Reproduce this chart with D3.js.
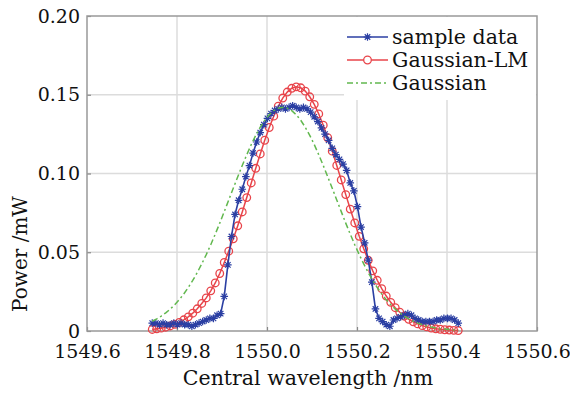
<!DOCTYPE html>
<html><head><meta charset="utf-8">
<script src="https://cdn.jsdelivr.net/npm/d3@7"></script>
<style>body{margin:0;background:#fff}svg{display:block}</style>
</head><body><svg id="c" width="570" height="393"></svg>
<script>
// ---- data ----
const xTicks = [1549.6, 1549.8, 1550.0, 1550.2, 1550.4, 1550.6];
const xTickLabels = ["1549.6", "1549.8", "1550.0", "1550.2", "1550.4", "1550.6"];
const yTicks = [0, 0.05, 0.10, 0.15, 0.20];
const yTickLabels = ["0", "0.05", "0.10", "0.15", "0.20"];
const seriesNames = ["sample data", "Gaussian-LM", "Gaussian"];

const sampleWl = [1549.745,1549.753,1549.761,1549.769,1549.777,1549.785,1549.793,1549.801,1549.809,1549.817,
1549.825,1549.833,1549.841,1549.849,1549.857,1549.865,1549.873,1549.881,1549.889,1549.897,
1549.905,1549.913,1549.921,1549.929,1549.937,1549.945,1549.953,1549.961,1549.969,1549.977,
1549.985,1549.993,1550.001,1550.009,1550.017,1550.025,1550.033,1550.041,1550.049,1550.057,
1550.065,1550.073,1550.081,1550.089,1550.097,1550.105,1550.113,1550.121,1550.129,1550.137,
1550.145,1550.153,1550.161,1550.169,1550.177,1550.185,1550.193,1550.201,1550.209,1550.217,
1550.225,1550.233,1550.241,1550.249,1550.257,1550.265,1550.273,1550.281,1550.289,1550.297,
1550.305,1550.313,1550.321,1550.329,1550.337,1550.345,1550.353,1550.361,1550.369,1550.377,
1550.385,1550.393,1550.401,1550.409,1550.417,1550.425];
const samplePower = [0.005,0.005,0.004,0.005,0.004,0.004,0.005,0.004,0.005,0.004,
0.004,0.003,0.004,0.005,0.006,0.007,0.008,0.008,0.010,0.011,
0.022,0.042,0.060,0.074,0.083,0.090,0.098,0.105,0.113,0.120,
0.126,0.131,0.135,0.138,0.140,0.141,0.142,0.141,0.142,0.143,
0.142,0.141,0.142,0.141,0.139,0.136,0.133,0.129,0.125,0.121,
0.116,0.112,0.109,0.106,0.102,0.094,0.089,0.079,0.066,0.056,
0.045,0.031,0.014,0.008,0.006,0.004,0.003,0.007,0.008,0.009,
0.010,0.011,0.010,0.008,0.007,0.006,0.006,0.006,0.006,0.007,
0.007,0.008,0.008,0.008,0.007,0.005];

const fitWl = [1549.745,1549.755,1549.765,1549.775,1549.785,1549.795,1549.805,1549.815,1549.825,1549.835,
1549.845,1549.855,1549.865,1549.875,1549.885,1549.895,1549.905,1549.915,1549.925,1549.935,
1549.945,1549.955,1549.965,1549.975,1549.985,1549.995,1550.005,1550.015,1550.025,1550.035,
1550.045,1550.055,1550.065,1550.075,1550.085,1550.095,1550.105,1550.115,1550.125,1550.135,
1550.145,1550.155,1550.165,1550.175,1550.185,1550.195,1550.205,1550.215,1550.225,1550.235,
1550.245,1550.255,1550.265,1550.275,1550.285,1550.295,1550.305,1550.315,1550.325,1550.335,
1550.345,1550.355,1550.365,1550.375,1550.385,1550.395,1550.405,1550.415,1550.425];
const lmPower = [0.0010,0.0014,0.0018,0.0024,0.0032,0.0042,0.0055,0.0071,0.0090,0.0113,
0.0141,0.0175,0.0210,0.0255,0.0305,0.0365,0.0435,0.0507,0.0585,0.0668,
0.0756,0.0847,0.0940,0.1033,0.1124,0.1211,0.1292,0.1364,0.1427,0.1479,
0.1517,0.1541,0.1550,0.1544,0.1523,0.1487,0.1439,0.1378,0.1307,0.1227,
0.1142,0.1051,0.0959,0.0866,0.0774,0.0686,0.0601,0.0522,0.0449,0.0382,
0.0322,0.0269,0.0222,0.0182,0.0148,0.0119,0.0094,0.0074,0.0058,0.0045,
0.0034,0.0026,0.0019,0.0014,0.0011,0.0008,0.0006,0.0004,0.0003];
const gaussPower = [0.0062,0.0077,0.0095,0.0115,0.0139,0.0167,0.0199,0.0235,0.0276,0.0321,
0.0371,0.0426,0.0485,0.0548,0.0615,0.0685,0.0758,0.0832,0.0906,0.0979,
0.1051,0.1119,0.1184,0.1242,0.1294,0.1338,0.1373,0.1399,0.1415,0.1420,
0.1415,0.1399,0.1373,0.1338,0.1294,0.1242,0.1184,0.1119,0.1051,0.0979,
0.0906,0.0832,0.0758,0.0685,0.0615,0.0548,0.0485,0.0426,0.0371,0.0321,
0.0276,0.0235,0.0199,0.0167,0.0139,0.0115,0.0095,0.0077,0.0062,0.0050,
0.0040,0.0032,0.0025,0.0019,0.0015,0.0012,0.0009,0.0007,0.0005];

// ---- layout ----
const L = 87, R = 537, T = 16, B = 331;
const FONT = "'DejaVu Serif', serif";
const BLUE = "#2b3fa3", RED = "#e8444a", GREEN = "#62b84f";
const svg = d3.select("#c");
const x = d3.scaleLinear().domain([1549.6, 1550.6]).range([L, R]);
const y = d3.scaleLinear().domain([0, 0.20]).range([B, T]);

// grid
const g = svg.append("g");
g.selectAll(".vg").data(xTicks.slice(1, -1)).enter().append("line")
  .attr("x1", d => x(d)).attr("x2", d => x(d)).attr("y1", T).attr("y2", B)
  .attr("stroke", "#dcdcdc").attr("stroke-width", 1.5);
g.selectAll(".hg").data(yTicks.slice(1, -1)).enter().append("line")
  .attr("x1", L).attr("x2", R).attr("y1", d => y(d)).attr("y2", d => y(d))
  .attr("stroke", "#dcdcdc").attr("stroke-width", 1.5);

// legend background (covers grid)
svg.append("rect").attr("x", 344).attr("y", T + 1).attr("width", R - 345).attr("height", 83).attr("fill", "#fff");

// axes with inner ticks
const xAxis = d3.axisBottom(x).tickValues(xTicks).tickFormat((d, i) => xTickLabels[i]).tickSizeInner(-4).tickSizeOuter(0).tickPadding(14);
const yAxis = d3.axisLeft(y).tickValues(yTicks).tickFormat((d, i) => yTickLabels[i]).tickSizeInner(-4).tickSizeOuter(0).tickPadding(7);
const xa = svg.append("g").attr("transform", `translate(0,${B})`).call(xAxis);
const ya = svg.append("g").attr("transform", `translate(${L},0)`).call(yAxis);
[xa, ya].forEach(a => {
  a.select(".domain").remove();
  a.selectAll("line").attr("stroke", "#888").attr("stroke-width", 1.2);
  a.selectAll("text").attr("font-family", FONT).attr("font-size", 19).attr("fill", "#111");
});

// frame
svg.append("rect").attr("x", L).attr("y", T).attr("width", R - L).attr("height", B - T)
  .attr("fill", "none").attr("stroke", "#999").attr("stroke-width", 1.5);

// series
const plot = svg.append("g");
const gaussData = fitWl.map((w, i) => [w, gaussPower[i]]);
const lmData = fitWl.map((w, i) => [w, lmPower[i]]);
const sampleData = sampleWl.map((w, i) => [w, samplePower[i]]);
const line = d3.line().x(d => x(d[0])).y(d => y(d[1]));

// red LM
plot.append("path").datum(lmData).attr("d", line).attr("fill", "none").attr("stroke", RED).attr("stroke-width", 1.5);
plot.selectAll(".lm").data(lmData).enter().append("circle")
  .attr("cx", d => x(d[0])).attr("cy", d => y(d[1])).attr("r", 3.8)
  .attr("fill", "none").attr("stroke", RED).attr("stroke-width", 1.3);

// blue sample
const starPath = (r) => {
  const a = r * 0.72;
  return `M0,${-r}V${r}M${-r},0H${r}M${-a},${-a}L${a},${a}M${-a},${a}L${a},${-a}`;
};
plot.append("path").datum(sampleData).attr("d", line).attr("fill", "none").attr("stroke", BLUE).attr("stroke-width", 1.6);
plot.selectAll(".sd").data(sampleData).enter().append("path")
  .attr("transform", d => `translate(${x(d[0])},${y(d[1])})`)
  .attr("d", starPath(3.8)).attr("stroke", BLUE).attr("stroke-width", 1.2).attr("fill", "none");

// green Gaussian
plot.append("path").datum(gaussData).attr("d", line).attr("fill", "none").attr("stroke", GREEN)
  .attr("stroke-width", 1.5).attr("stroke-dasharray", "6,3,2,3");

// legend
const lg = svg.append("g");
const rows = [
  { name: seriesNames[0], color: BLUE, type: "star" },
  { name: seriesNames[1], color: RED, type: "circle" },
  { name: seriesNames[2], color: GREEN, type: "dash" }
];
rows.forEach((r, i) => {
  const yy = 37 + i * 23;
  const ln = lg.append("line").attr("x1", 347).attr("x2", 388).attr("y1", yy).attr("y2", yy)
    .attr("stroke", r.color).attr("stroke-width", 1.5);
  if (r.type === "dash") ln.attr("stroke-dasharray", "6,3,2,3");
  if (r.type === "star") lg.append("path").attr("transform", `translate(367.5,${yy})`).attr("d", starPath(3.8))
    .attr("stroke", r.color).attr("stroke-width", 1.2);
  if (r.type === "circle") lg.append("circle").attr("cx", 367.5).attr("cy", yy).attr("r", 3.8)
    .attr("fill", "#fff").attr("stroke", r.color).attr("stroke-width", 1.3);
  lg.append("text").attr("x", 392).attr("y", yy).attr("dy", "0.33em").text(r.name)
    .attr("font-family", FONT).attr("font-size", 20.5).attr("fill", "#111");
});

// axis titles
svg.append("text").attr("x", 308).attr("y", 385).attr("text-anchor", "middle")
  .attr("font-family", FONT).attr("font-size", 20.5).attr("fill", "#111").text("Central wavelength /nm");
svg.append("text").attr("transform", "translate(27,254) rotate(-90)").attr("text-anchor", "middle")
  .attr("font-family", FONT).attr("font-size", 20).attr("fill", "#111").text("Power /mW");
</script></body></html>
